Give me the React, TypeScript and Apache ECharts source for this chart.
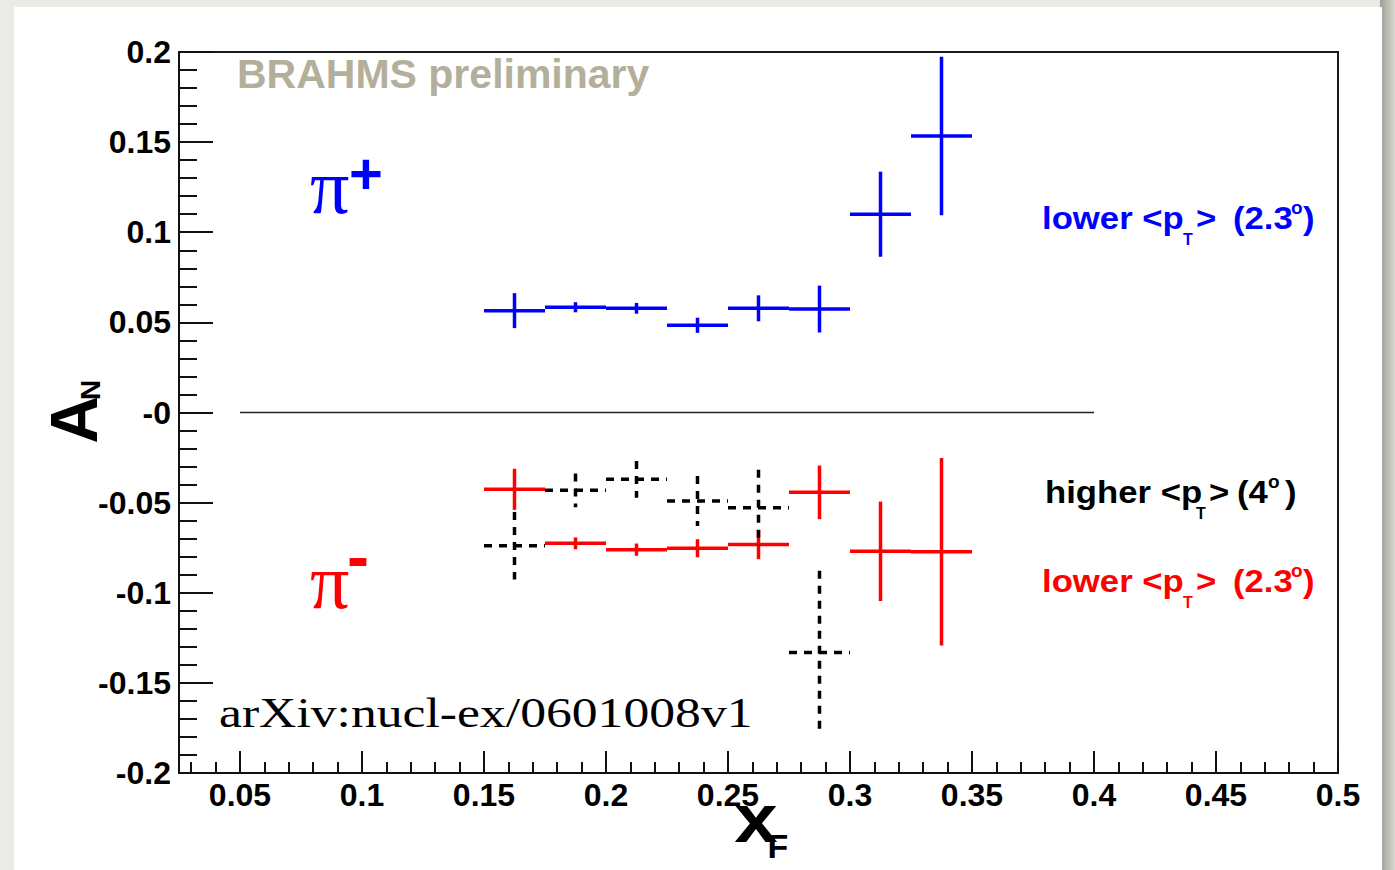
import React, { useEffect, useRef } from "react";
import * as echarts from "echarts";

// Bin centres in x_F and their half-width (horizontal error bars)
const binCenters = [0.1625, 0.1875, 0.2125, 0.2375, 0.2625, 0.2875, 0.3125, 0.3375];
const binHalfWidth = 0.0125;

// pi+ at lower <pT> (2.3 deg)
const piPlusLowAN = [0.0565, 0.0584, 0.0578, 0.0484, 0.0578, 0.0574, 0.11, 0.1534];
const piPlusLowErr = [0.0097, 0.0028, 0.003, 0.0042, 0.0072, 0.013, 0.0236, 0.0439];

// pi- at lower <pT> (2.3 deg)
const piMinusLowAN = [-0.0426, -0.0726, -0.0761, -0.0753, -0.0733, -0.0443, -0.077, -0.0772];
const piMinusLowErr = [0.0114, 0.0033, 0.0034, 0.005, 0.0081, 0.0149, 0.0276, 0.052];

// pi- at higher <pT> (4 deg)
const piMinusHighAN = [-0.0739, -0.0432, -0.0371, -0.0491, -0.0528, -0.1331];
const piMinusHighErr = [0.0187, 0.0093, 0.0102, 0.0139, 0.021, 0.0453];

// Axis ranges and the zero reference line
const xRange = [0.025, 0.5];
const xMajorStep = 0.05;
const yRange = [-0.2, 0.2];
const yMajorStep = 0.05;
const zeroLineSpan = [0.05, 0.4];

const SANS = "'Liberation Sans', Arial, Helvetica, sans-serif";
const SERIF = "'Liberation Serif', 'Times New Roman', serif";
const BLUE = "#0000ff";
const RED = "#ff0000";
const BLACK = "#000000";

function points(values: number[], errors: number[]) {
  return values.map((v, i) => [binCenters[i], v, binHalfWidth, errors[i]]);
}

function errorBarSeries(name: string, data: number[][], color: string, dashed: boolean) {
  return {
    name,
    type: "custom",
    data,
    encode: { x: 0, y: 1 },
    silent: true,
    z: dashed ? 4 : 3,
    renderItem: (_params: any, api: any) => {
      const x = api.value(0);
      const y = api.value(1);
      const ex = api.value(2);
      const ey = api.value(3);
      const l = api.coord([x - ex, y]);
      const r = api.coord([x + ex, y]);
      const t = api.coord([x, y + ey]);
      const b = api.coord([x, y - ey]);
      const style: any = { stroke: color, lineWidth: 3.5, fill: null };
      if (dashed) style.lineDash = [8, 7];
      return {
        type: "group",
        children: [
          { type: "line", shape: { x1: l[0], y1: l[1], x2: r[0], y2: r[1] }, style },
          { type: "line", shape: { x1: t[0], y1: t[1], x2: b[0], y2: b[1] }, style },
        ],
      };
    },
  };
}

// Text placed by its baseline; "middle" alignment sits ~0.3465 em above it
function label(
  text: string,
  x: number,
  baseline: number,
  size: number,
  color: string,
  opts: { family?: string; weight?: string; scaleX?: number; align?: string } = {}
) {
  const family = opts.family ?? SANS;
  const weight = opts.weight ?? "bold";
  const align = opts.align ?? "left";
  return {
    type: "text",
    x,
    y: baseline - 0.3465 * size,
    scaleX: opts.scaleX ?? 1,
    z: 100,
    silent: true,
    style: {
      text,
      fill: color,
      font: `${weight} ${size}px ${family}`,
      fontSize: size,
      fontWeight: weight,
      fontFamily: family,
      align,
      textAlign: align,
      verticalAlign: "middle",
      textVerticalAlign: "middle",
    },
  };
}

function ptLabel(prefix: string, angle: string, baseline: number, color: string, xs: number[]) {
  const s = 31;
  const k = 1.12;
  return [
    label(prefix, xs[0], baseline, s, color, { scaleX: k }),
    label("T", xs[1], baseline + 16, 16, color),
    label(">", xs[2], baseline, s, color, { scaleX: k }),
    label("(" + angle, xs[3], baseline, s, color, { scaleX: k }),
    label("o", xs[4], baseline - 15, 19, color),
    label(")", xs[5], baseline, s, color, { scaleX: k }),
  ];
}

function fmtTick(v: number) {
  if (Math.abs(v) < 1e-9) return "-0";
  return String(parseFloat(v.toFixed(3)));
}

export default function App() {
  const ref = useRef<HTMLDivElement>(null);

  useEffect(() => {
    if (!ref.current) return;
    const chart = echarts.init(ref.current, undefined, { renderer: "svg" });

    const tickLine = { color: "#111", width: 2 };

    const option: any = {
      animation: false,
      backgroundColor: "#ebeae6",
      grid: {
        left: 179,
        right: 57,
        top: 52,
        bottom: 97,
        show: true,
        backgroundColor: "transparent",
        borderColor: "#1a1a1a",
        borderWidth: 2,
      },
      xAxis: {
        type: "value",
        min: xRange[0],
        max: xRange[1],
        minInterval: xMajorStep,
        maxInterval: xMajorStep,
        splitNumber: 10,
        axisLine: { show: true, onZero: false, lineStyle: tickLine },
        axisTick: { show: true, inside: true, length: 22, lineStyle: tickLine },
        minorTick: { show: true, splitNumber: 5, length: 11, lineStyle: tickLine },
        splitLine: { show: false },
        minorSplitLine: { show: false },
        axisLabel: {
          show: true,
          showMinLabel: false,
          showMaxLabel: true,
          margin: 6,
          color: "#000",
          fontFamily: SANS,
          fontWeight: "bold",
          fontSize: 32,
          formatter: (v: number) => fmtTick(v),
        },
      },
      yAxis: {
        type: "value",
        min: yRange[0],
        max: yRange[1],
        interval: yMajorStep,
        axisLine: { show: true, onZero: false, lineStyle: tickLine },
        axisTick: { show: true, inside: true, length: 34, lineStyle: tickLine },
        minorTick: { show: true, splitNumber: 5, length: 18, lineStyle: tickLine },
        splitLine: { show: false },
        minorSplitLine: { show: false },
        axisLabel: {
          show: true,
          margin: 8,
          color: "#000",
          fontFamily: SANS,
          fontWeight: "bold",
          fontSize: 32,
          padding: [5, 0, 0, 0],
          formatter: (v: number) => fmtTick(v),
        },
      },
      series: [
        {
          name: "zero",
          type: "line",
          data: zeroLineSpan.map((x) => [x, 0]),
          symbol: "none",
          silent: true,
          z: 1,
          lineStyle: { color: "#222", width: 1.6 },
        },
        errorBarSeries("pi+ lower pT", points(piPlusLowAN, piPlusLowErr), BLUE, false),
        errorBarSeries("pi- lower pT", points(piMinusLowAN, piMinusLowErr), RED, false),
        errorBarSeries("pi- higher pT", points(piMinusHighAN, piMinusHighErr), BLACK, true),
      ],
      graphic: {
        elements: [
          {
            type: "rect",
            z: -20,
            silent: true,
            shape: { x: 1380, y: 0, width: 15, height: 870 },
            style: {
              fill: new echarts.graphic.LinearGradient(0, 0, 1, 0, [
                { offset: 0, color: "#9d9d95" },
                { offset: 1, color: "#d9d9d3" },
              ]),
            },
          },
          {
            type: "rect",
            z: -10,
            silent: true,
            shape: { x: 14, y: 7, width: 1368, height: 870 },
            style: { fill: "#ffffff" },
          },
          label("BRAHMS preliminary", 237, 88, 41, "#b4af9b"),
          label("arXiv:nucl-ex/0601008v1", 219, 727, 42, BLACK, {
            family: SERIF,
            weight: "normal",
            scaleX: 1.23,
          }),
          // particle tags
          label("\u03c0", 310, 214, 78, BLUE, { family: SERIF, weight: "normal" }),
          label("+", 349, 173.5 + 0.3465 * 58, 58, BLUE),
          label("\u03c0", 310, 609, 78, RED, { family: SERIF, weight: "normal" }),
          label("-", 347, 579.3, 66, RED),
          // series captions
          ...ptLabel("lower <p", "2.3", 229, BLUE, [1042, 1183, 1196, 1233, 1291, 1303]),
          ...ptLabel("higher <p", "4", 503, BLACK, [1045, 1196, 1209, 1237, 1268, 1285]),
          ...ptLabel("lower <p", "2.3", 592, RED, [1042, 1183, 1196, 1233, 1291, 1303]),
          // axis titles
          {
            type: "text",
            x: 74,
            y: 420,
            rotation: Math.PI / 2,
            z: 100,
            silent: true,
            style: {
              text: "A",
              fill: BLACK,
              font: `bold 66px ${SANS}`,
              align: "center",
              textAlign: "center",
              verticalAlign: "middle",
              textVerticalAlign: "middle",
            },
          },
          {
            type: "text",
            x: 90,
            y: 390,
            rotation: Math.PI / 2,
            z: 100,
            silent: true,
            style: {
              text: "N",
              fill: BLACK,
              font: `bold 28px ${SANS}`,
              align: "center",
              textAlign: "center",
              verticalAlign: "middle",
              textVerticalAlign: "middle",
            },
          },
          label("x", 756, 842.7, 68, BLACK, { align: "center", scaleX: 1.15 }),
          label("F", 778, 858, 34, BLACK, { align: "center" }),
        ],
      },
    };

    chart.setOption(option);
    return () => {
      chart.dispose();
    };
  }, []);

  return (
    <div
      ref={ref}
      style={{ position: "fixed", left: 0, top: 0, width: 1395, height: 870 }}
    />
  );
}
